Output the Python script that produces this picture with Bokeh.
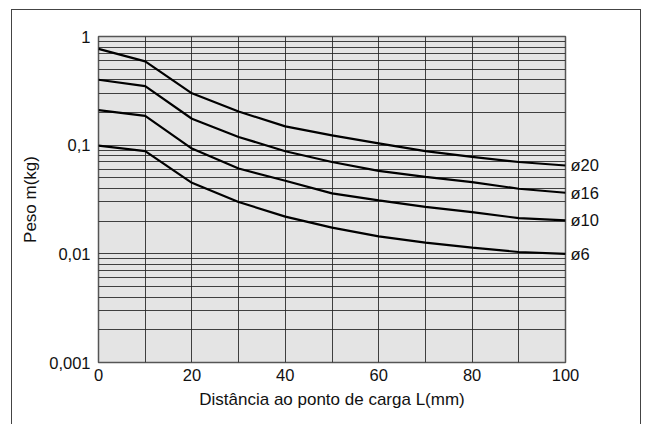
from bokeh.plotting import figure
from bokeh.models import FixedTicker, CustomJSTickFormatter, LogAxis
from bokeh.embed import file_html
from bokeh.resources import INLINE

# ---- data ----
dist = [0, 10, 20, 30, 40, 50, 60, 70, 80, 90, 100]
m_d20 = [0.77, 0.59, 0.30, 0.204, 0.149, 0.123, 0.104, 0.088, 0.078, 0.070, 0.065]
m_d16 = [0.40, 0.35, 0.175, 0.119, 0.088, 0.070, 0.058, 0.051, 0.0457, 0.0397, 0.0365]
m_d10 = [0.21, 0.186, 0.093, 0.061, 0.047, 0.036, 0.031, 0.027, 0.0242, 0.0213, 0.0203]
m_d6 = [0.099, 0.088, 0.045, 0.030, 0.022, 0.0174, 0.0145, 0.0127, 0.0114, 0.0104, 0.0100]
series = [m_d20, m_d16, m_d10, m_d6]
series_labels = ["ø20", "ø16", "ø10", "ø6"]
x_ticks = [0, 20, 40, 60, 80, 100]
x_grid = [0, 10, 20, 30, 40, 50, 60, 70, 80, 90, 100]
y_ticks = [0.001, 0.01, 0.1, 1]
y_grid = [d * k for d in (0.001, 0.01, 0.1) for k in range(1, 10)] + [1]

FONT = "Liberation Sans"

p = figure(width=645, height=424, y_axis_type="log",
           x_range=(0, 100), y_range=(0.001, 1),
           output_backend="svg", toolbar_location=None,
           min_border_left=98, min_border_right=80,
           min_border_top=36, min_border_bottom=62)
p.background_fill_color = "#e4e4e4"
p.border_fill_color = "white"
p.outline_line_color = "#555555"
p.outline_line_width = 1.5

xax = p.xaxis[0]
yax = p.yaxis[0]
xax.ticker = FixedTicker(ticks=x_ticks, minor_ticks=x_grid)
yax.ticker = FixedTicker(ticks=y_ticks, minor_ticks=y_grid)
yax.formatter = CustomJSTickFormatter(
    code="return Number(tick.toPrecision(3)).toString().replace('.', ',');")

p.xgrid.ticker = FixedTicker(ticks=x_grid)
p.ygrid.ticker = FixedTicker(ticks=y_grid)
for g in (p.xgrid, p.ygrid):
    g.grid_line_color = "#222222"
    g.grid_line_width = 1
    g.grid_line_alpha = 0.85

# right-hand axis used to write the series names at the curve ends
ends = [s[-1] for s in series]
raxis = LogAxis(ticker=FixedTicker(ticks=ends),
                major_label_overrides={e: lab for e, lab in zip(ends, series_labels)})
p.add_layout(raxis, "right")

for ax in (xax, yax, raxis):
    ax.axis_line_color = None
    ax.major_tick_line_color = None
    ax.minor_tick_line_color = None
    ax.major_tick_out = 0
    ax.minor_tick_out = 0
    ax.major_label_text_font = FONT
    ax.major_label_text_font_size = "16.5px"
    ax.major_label_text_color = "#111111"
    ax.axis_label_text_font = FONT
    ax.axis_label_text_font_size = "17px"
    ax.axis_label_text_font_style = "normal"
    ax.axis_label_text_color = "#111111"

xax.axis_label = "Distância ao ponto de carga L(mm)"
yax.axis_label = "Peso m(kg)"
xax.major_label_standoff = 6
xax.axis_label_standoff = 6
yax.major_label_standoff = 8
yax.axis_label_standoff = 6
raxis.major_label_standoff = 5

for s in series:
    p.line(dist, s, line_color="black", line_width=2.2)

# outer frame around the whole figure (drawn with CSS on the figure host)
p.stylesheets = [
    ":host { position: relative; }"
    ":host::after { content: ''; position: absolute; left: 11px; top: 9px; "
    "right: 4px; bottom: 0px; border: 1.5px solid #444444; border-bottom: none; "
    "pointer-events: none; box-sizing: border-box; }"
]

open("out.html", "w").write(file_html(p, INLINE))
